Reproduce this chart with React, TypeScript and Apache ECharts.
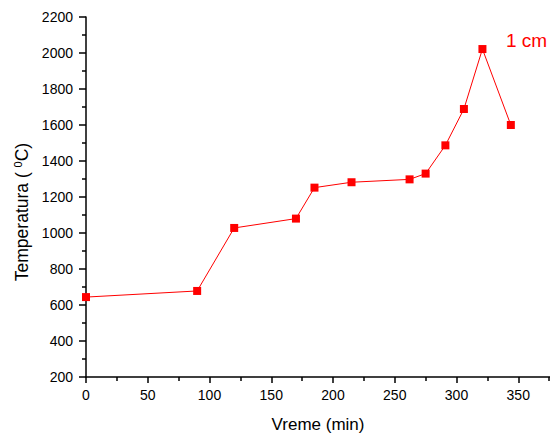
import React, { useEffect, useRef } from "react";
import * as echarts from "echarts";

const timeMin = [0, 90, 120, 170, 185, 215, 262, 275, 291, 306, 321, 344];
const temperature = [644, 678, 1028, 1080, 1252, 1282, 1298, 1330, 1487, 1689, 2022, 1600];
const seriesLabel = "1 cm";
const xTitle = "Vreme (min)";

const FONT = "'Liberation Sans', Arial, sans-serif";

export default function App() {
  const ref = useRef<HTMLDivElement>(null);
  useEffect(() => {
    if (!ref.current) return;
    const chart = echarts.init(ref.current, null, { renderer: "svg" });
    const data = timeMin.map((t, i) => [t, temperature[i]]);
    chart.setOption({
      animation: false,
      backgroundColor: "#ffffff",
      grid: { left: 86, top: 17, right: 0, bottom: 58, containLabel: false },
      xAxis: {
        type: "value",
        min: 0,
        max: 400,
        interval: 50,
        axisLine: { show: true, onZero: false, lineStyle: { color: "#000", width: 1.5 } },
        axisTick: { show: true, inside: false, length: 6, lineStyle: { color: "#000", width: 1.5 } },
        minorTick: { show: true, splitNumber: 2, length: 4, lineStyle: { color: "#000", width: 1.5 } },
        axisLabel: {
          fontFamily: FONT,
          fontSize: 14,
          color: "#000",
          margin: 11,
          formatter: (v: number) => (v > 370 ? "" : String(v)),
        },
        splitLine: { show: false },
      },
      yAxis: {
        type: "value",
        min: 200,
        max: 2200,
        interval: 200,
        axisLine: { show: true, onZero: false, lineStyle: { color: "#000", width: 1.5 } },
        axisTick: { show: true, inside: false, length: 7, lineStyle: { color: "#000", width: 1.5 } },
        minorTick: { show: true, splitNumber: 2, length: 4, lineStyle: { color: "#000", width: 1.5 } },
        axisLabel: {
          fontFamily: FONT,
          fontSize: 14,
          color: "#000",
          margin: 13,
          formatter: (v: number) => String(v),
        },
        splitLine: { show: false },
      },
      graphic: [
        {
          type: "text",
          x: 318,
          y: 424,
          style: {
            text: xTitle,
            fontFamily: FONT,
            fontSize: 17,
            fill: "#000",
            align: "center",
            verticalAlign: "middle",
          },
        },
        {
          type: "text",
          x: 22,
          y: 212,
          rotation: Math.PI / 2,
          style: {
            text: "Temperatura ( {sup|0}C)",
            fontFamily: FONT,
            fontSize: 17.5,
            fill: "#000",
            align: "center",
            verticalAlign: "middle",
            rich: {
              sup: { fontFamily: FONT, fontSize: 11, fill: "#000", padding: [0, 0, 8, 0] },
            },
          },
        },
        {
          type: "text",
          x: 506,
          y: 40,
          style: {
            text: seriesLabel,
            fontFamily: FONT,
            fontSize: 19,
            fill: "#ff0000",
            align: "left",
            verticalAlign: "middle",
          },
        },
      ],
      series: [
        {
          type: "line",
          data,
          symbol: "rect",
          symbolSize: 8,
          itemStyle: { color: "#ff0000" },
          lineStyle: { color: "#ff0000", width: 1 },
          clip: false,
        },
      ],
    });
    return () => chart.dispose();
  }, []);
  return (
    <div
      ref={ref}
      style={{ position: "fixed", left: 0, top: 0, width: 583, height: 435 }}
    />
  );
}
